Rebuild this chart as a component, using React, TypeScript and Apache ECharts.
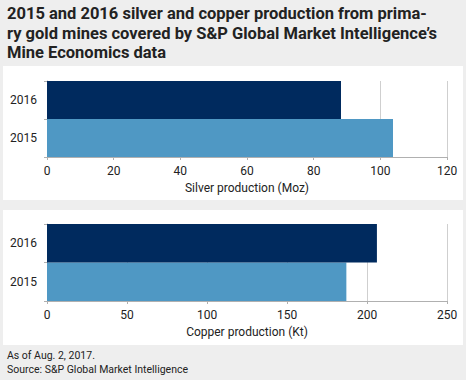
import React, { useEffect, useRef } from "react";
import * as echarts from "echarts";

const years = ["2015", "2016"];
const silverValues = [103.8, 88.2];
const copperValues = [187.1, 206.2];
const silverTicks = { min: 0, max: 120, interval: 20 };
const copperTicks = { min: 0, max: 250, interval: 50 };
const barColors = ["#4f98c4", "#002a5e"];
const titleLines = [
  "2015 and 2016 silver and copper production from prima-",
  "ry gold mines covered by S&P Global Market Intelligence\u2019s",
  "Mine Economics data",
];
const footerLines = ["As of Aug. 2, 2017.", "Source: S&P Global Market Intelligence"];

const FONT = "Roboto, 'Liberation Sans', sans-serif";

export default function App() {
  const ref = useRef<HTMLDivElement>(null);
  useEffect(() => {
    const chart = echarts.init(ref.current!, null, { renderer: "svg" });
    const xAxisCommon = (name: string, t: any, gridIndex: number) => ({
      type: "value",
      gridIndex,
      min: t.min,
      max: t.max,
      interval: t.interval,
      name,
      nameLocation: "middle",
      nameGap: 25,
      nameTextStyle: { color: "#222", fontSize: 12, fontFamily: FONT },
      axisLine: { show: true, lineStyle: { color: "#b0b0b0" } },
      axisTick: { show: true, length: 3, lineStyle: { color: "#b0b0b0" } },
      axisLabel: { color: "#222", fontSize: 12, fontFamily: FONT, margin: 8 },
      splitLine: { show: true, lineStyle: { color: "#cfcfcf" } },
    });
    const yAxisCommon = (gridIndex: number) => ({
      type: "category",
      gridIndex,
      data: years,
      axisLine: { show: true, lineStyle: { color: "#b0b0b0" } },
      axisTick: { show: true, length: 3, lineStyle: { color: "#b0b0b0" } },
      axisLabel: { color: "#222", fontSize: 12, fontFamily: FONT, margin: 10 },
    });
    const mkData = (vals: number[]) =>
      vals.map((v, i) => ({ value: v, itemStyle: { color: barColors[i] } }));
    chart.setOption({
      animation: false,
      backgroundColor: "#eeeeee",
      graphic: [
        { type: "rect", shape: { x: 3, y: 66, width: 460, height: 134 }, style: { fill: "#ffffff" }, z: -10 },
        { type: "rect", shape: { x: 3, y: 210, width: 460, height: 135 }, style: { fill: "#ffffff" }, z: -10 },
        ...titleLines.map((t, i) => ({
          type: "text",
          x: 7,
          y: 5 + i * 19.5,
          style: { text: t, fill: "#222", font: `bold 16.5px ${FONT}` },
        })),
        ...footerLines.map((t, i) => ({
          type: "text",
          x: 7,
          y: 350 + i * 13.5,
          style: { text: t, fill: "#222", font: `10.5px ${FONT}` },
        })),
      ],
      grid: [
        { left: 47, right: 19, top: 81, height: 76 },
        { left: 47, right: 19, top: 224, height: 77 },
      ],
      xAxis: [
        xAxisCommon("Silver production (Moz)", silverTicks, 0),
        xAxisCommon("Copper production (Kt)", copperTicks, 1),
      ],
      yAxis: [yAxisCommon(0), yAxisCommon(1)],
      series: [
        { type: "bar", xAxisIndex: 0, yAxisIndex: 0, data: mkData(silverValues), barCategoryGap: "0%" },
        { type: "bar", xAxisIndex: 1, yAxisIndex: 1, data: mkData(copperValues), barCategoryGap: "0%" },
      ],
    });
    return () => chart.dispose();
  }, []);
  return (
    <div
      ref={ref}
      style={{ position: "fixed", left: 0, top: 0, width: 466, height: 380 }}
    />
  );
}
